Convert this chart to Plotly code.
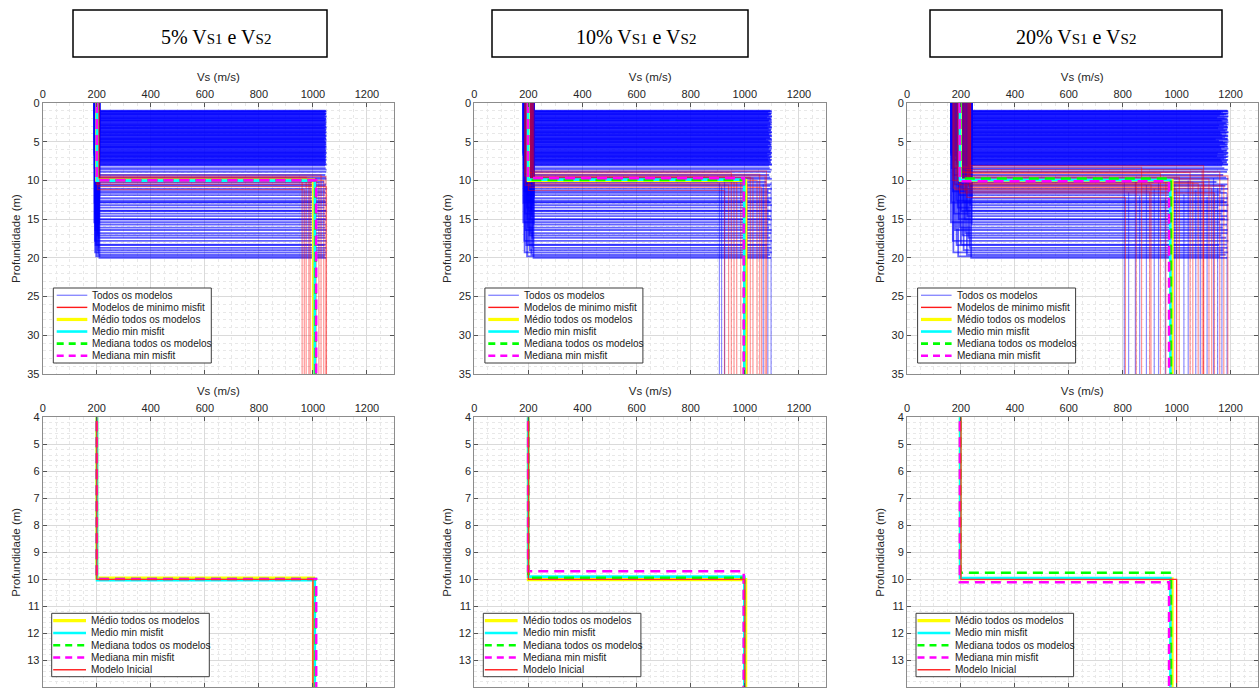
import plotly.graph_objects as go

# ---------------- DATA ----------------
panel_titles = ["5%", "10%", "20%"]

# interface depth (m) of the "Todos os modelos" curves (same sampling look in all panels)
h_todos = [1.0, 1.1, 1.2, 1.4, 1.5, 1.7, 1.9, 2.0, 2.2, 2.3,
           2.4, 2.6, 2.8, 2.9, 3.0, 3.2, 3.3, 3.5, 3.7, 3.8,
           3.9, 4.1, 4.2, 4.4, 4.6, 4.7, 4.8, 5.0, 5.1, 5.3,
           5.5, 5.6, 5.7, 5.9, 6.0, 6.2, 6.4, 6.5, 6.6, 6.8,
           6.9, 7.1, 7.3, 7.4, 7.6,
           7.9, 8.1, 8.4, 8.6, 8.9, 9.3, 9.6, 9.8, 10.2, 10.5,
           10.7, 11.1, 11.4, 11.6, 11.9, 12.3, 12.6, 12.8, 12.85, 13.2,
           13.5, 13.9, 13.95, 14.3, 14.6, 15.0, 15.05, 15.4, 15.7, 16.1,
           16.4, 16.8, 17.1, 17.4, 17.8, 18.3, 18.35, 18.7, 19.0, 19.3,
           19.6, 19.8, 20.0,
           1.05, 1.15, 1.35, 1.45, 1.6, 1.8, 1.95, 2.1, 2.25, 2.5,
           2.7, 2.85, 3.1, 3.25, 3.4, 3.6, 3.75, 4.0, 4.15, 4.3,
           4.5, 4.65, 4.9, 5.05, 5.2, 5.4, 5.65, 5.8, 6.1, 6.3,
           6.45, 6.7, 6.85, 7.0, 7.2, 7.35, 7.5, 7.7, 7.8, 8.0]

vs1_todos_5 = [203, 196, 208, 199, 192, 205, 201, 197, 209, 194,
               206, 200, 193, 204, 198, 207, 195, 202, 210, 196,
               201, 193, 208, 199, 205, 192, 203, 197, 209, 200,
               194, 206, 198, 202, 195, 207, 191, 204, 199, 210,
               196, 203, 193, 208, 201, 197, 205, 192, 200, 206,
               194, 209, 198, 203, 195, 207, 201, 193, 204, 199,
               210, 196, 202, 192, 208, 197, 205, 200, 194, 206,
               198, 203, 191, 209, 199, 195, 204, 201, 207, 193,
               200, 196, 208, 202, 194, 205, 198, 210,
               199, 204, 195, 207, 201, 193, 209, 197, 205, 200,
               192, 206, 198, 203, 196, 208, 194, 202, 210, 199,
               195, 204, 201, 207, 193, 198, 205, 200, 209, 196,
               203, 191, 206, 199, 202, 194, 208, 197, 204, 200]
vs2_todos_5 = [1047, 1050, 1044, 1049, 1046, 1050, 1042, 1048, 1050, 1045,
               1049, 1047, 1050, 1043, 1048, 1050, 1046, 1049, 1044, 1050,
               1048, 1045, 1050, 1047, 1049, 1041, 1050, 1046, 1048, 1050,
               1044, 1049, 1047, 1050, 1045, 1048, 1050, 1043, 1049, 1046,
               1050, 1047, 1044, 1049, 1048, 1050, 1045, 1047, 1050, 1049,
               1046, 1048, 1050, 1042, 1049, 1047, 1050, 1045, 1048, 1044,
               1050, 1046, 1049, 1047, 1050, 1043, 1048, 1050, 1045, 1049,
               1047, 1050, 1044, 1048, 1046, 1050, 1049, 1045, 1047, 1050,
               1048, 1043, 1049, 1046, 1050, 1047, 1044, 1049,
               1049, 1046, 1050, 1048, 1044, 1050, 1047, 1049, 1045, 1050,
               1048, 1046, 1050, 1043, 1049, 1047, 1050, 1045, 1048, 1050,
               1046, 1049, 1044, 1050, 1047, 1048, 1050, 1045, 1049, 1046,
               1050, 1048, 1043, 1049, 1047, 1050, 1045, 1048, 1046, 1050]
vs1_todos_10 = [206, 189, 215, 197, 183, 211, 200, 192, 219, 186,
                208, 199, 184, 213, 194, 217, 188, 203, 221, 191,
                202, 185, 216, 196, 209, 182, 207, 193, 220, 198,
                187, 212, 195, 204, 189, 214, 181, 210, 197, 218,
                190, 205, 184, 216, 201, 193, 211, 183, 199, 213,
                186, 219, 195, 206, 188, 215, 202, 185, 209, 197,
                221, 191, 204, 182, 217, 194, 210, 200, 187, 212,
                196, 207, 181, 220, 198, 189, 208, 203, 214, 185,
                200, 192, 216, 205, 186, 211, 195, 219,
                198, 209, 189, 215, 202, 185, 219, 194, 211, 200,
                183, 213, 196, 207, 191, 217, 187, 205, 221, 198,
                190, 209, 202, 214, 184, 196, 211, 200, 219, 192,
                206, 181, 213, 197, 204, 188, 216, 193, 208, 200]
vs2_todos_10 = [1094, 1100, 1086, 1097, 1091, 1100, 1082, 1096, 1099, 1088,
                1098, 1093, 1100, 1084, 1095, 1099, 1090, 1097, 1087, 1100,
                1096, 1089, 1100, 1093, 1098, 1078, 1100, 1091, 1095, 1099,
                1085, 1097, 1092, 1100, 1088, 1096, 1099, 1083, 1098, 1090,
                1100, 1094, 1086, 1097, 1095, 1100, 1089, 1092, 1099, 1096,
                1090, 1094, 1100, 1080, 1098, 1093, 1100, 1087, 1096, 1085,
                1099, 1091, 1097, 1094, 1100, 1082, 1095, 1099, 1088, 1097,
                1093, 1100, 1086, 1096, 1090, 1099, 1098, 1087, 1094, 1100,
                1095, 1083, 1098, 1091, 1100, 1093, 1085, 1097,
                1098, 1092, 1100, 1096, 1088, 1100, 1094, 1099, 1090, 1100,
                1097, 1093, 1100, 1085, 1098, 1095, 1100, 1089, 1096, 1100,
                1092, 1099, 1087, 1100, 1094, 1097, 1100, 1090, 1098, 1093,
                1100, 1096, 1084, 1099, 1094, 1100, 1091, 1097, 1092, 1100]
vs1_todos_20 = [212, 178, 230, 194, 166, 222, 200, 184, 238, 172,
                216, 198, 168, 226, 188, 234, 176, 206, 241, 182,
                204, 170, 232, 192, 218, 164, 214, 186, 240, 196,
                174, 224, 190, 208, 178, 228, 163, 220, 194, 236,
                180, 210, 168, 232, 202, 186, 222, 166, 198, 226,
                172, 238, 190, 212, 176, 230, 204, 170, 218, 194,
                241, 182, 208, 164, 234, 188, 220, 200, 174, 224,
                192, 214, 163, 240, 196, 178, 216, 206, 228, 170,
                200, 184, 232, 210, 172, 222, 190, 238,
                196, 218, 178, 230, 204, 170, 238, 188, 222, 200,
                166, 226, 192, 214, 182, 234, 174, 210, 241, 196,
                180, 218, 204, 228, 168, 192, 222, 200, 238, 184,
                212, 163, 226, 194, 208, 176, 232, 186, 216, 200]
vs2_todos_20 = [1188, 1192, 1165, 1190, 1176, 1192, 1150, 1186, 1191, 1170,
                1189, 1182, 1192, 1158, 1187, 1190, 1174, 1188, 1162, 1192,
                1185, 1168, 1191, 1180, 1189, 1145, 1192, 1172, 1186, 1190,
                1160, 1188, 1178, 1192, 1166, 1185, 1190, 1152, 1189, 1175,
                1192, 1183, 1163, 1188, 1186, 1191, 1169, 1177, 1190, 1187,
                1173, 1184, 1192, 1148, 1189, 1181, 1191, 1164, 1186, 1159,
                1190, 1176, 1188, 1183, 1192, 1155, 1185, 1190, 1167, 1188,
                1179, 1192, 1161, 1187, 1171, 1190, 1189, 1166, 1184, 1192,
                1186, 1157, 1189, 1175, 1191, 1182, 1162, 1188,
                1190, 1172, 1192, 1184, 1160, 1191, 1178, 1189, 1166, 1192,
                1186, 1175, 1190, 1153, 1188, 1181, 1192, 1163, 1185, 1191,
                1170, 1189, 1157, 1192, 1179, 1186, 1190, 1165, 1188, 1174,
                1192, 1183, 1150, 1189, 1177, 1191, 1168, 1186, 1173, 1190]

# blue half-space lines (Vs, top depth) that run down to 35 m
vs_todos_deep_5 = []
h_todos_deep_5 = []
vs_todos_deep_10 = [906, 914, 925, 1068, 1085, 1097]
h_todos_deep_10 = [10.3, 10.8, 9.9, 10.5, 11.0, 10.2]
vs_todos_deep_20 = [806, 822, 847, 863, 888, 917, 933, 958, 993, 1027,
                    1043, 1071, 1088, 1113, 1137, 1152, 1168, 1187]
h_todos_deep_20 = [10.2, 11.5, 9.8, 12.0, 10.6, 11.1, 9.9, 12.3, 10.4, 11.8,
                   10.0, 11.3, 10.8, 12.1, 9.7, 11.0, 10.5, 11.6]

# "Modelos de minimo misfit"
h_min_5 = [9.3, 9.5, 9.6, 9.7, 9.8, 9.9, 10.0, 10.1, 10.3, 10.5, 10.8, 11.2]
vs1_min_5 = [205, 198, 210, 201, 202, 196, 207, 200, 204, 199, 208, 203]
vs2_min_5 = [1030, 1048, 975, 985, 1012, 960, 1040, 990, 1022, 1005, 1050, 968]
h_min_10 = [8.8, 9.0, 9.2, 9.4, 9.5, 9.6, 9.7, 9.9, 10.0, 10.1, 10.2, 10.4, 10.6, 10.9, 11.3]
vs1_min_10 = [215, 190, 208, 186, 220, 210, 197, 212, 203, 195, 193, 217, 188, 206, 200]
vs2_min_10 = [1080, 950, 1055, 1075, 960, 1020, 1030, 985, 1045, 995, 970, 1010, 940, 1062, 925]
h_min_20 = [8.1, 8.3, 8.6, 8.9, 9.0, 9.1, 9.4, 9.6, 9.8, 9.9, 10.0, 10.2,
            10.3, 10.4, 10.5, 10.7, 10.9, 11.0, 11.2, 11.4, 11.6, 12.2]
vs1_min_20 = [230, 175, 218, 190, 208, 236, 182, 225, 205, 188, 170, 212,
              228, 235, 186, 200, 232, 172, 178, 215, 195, 222]
vs2_min_20 = [1100, 870, 1095, 1160, 1050, 940, 1190, 1010, 1120, 960, 850, 1060,
              1100, 1080, 905, 1175, 985, 1130, 1000, 900, 1140, 810]
min_bottom = 35.0

# summary profiles: [Vs1, interface depth, Vs2]
medio_todos = {"5%": [200, 9.96, 1002], "10%": [200, 10.01, 1003], "20%": [198, 9.98, 983]}
medio_min = {"5%": [201, 10.03, 1007], "10%": [199, 9.90, 998], "20%": [197, 9.95, 977]}
mediana_todos = {"5%": [200, 9.99, 1010], "10%": [200, 9.94, 997], "20%": [198, 9.76, 979]}
mediana_min = {"5%": [200, 9.99, 1012], "10%": [199, 9.70, 996], "20%": [196, 10.11, 972]}
modelo_inicial = [200, 10.0, 1000]

todos = {"5%": (vs1_todos_5, vs2_todos_5, vs_todos_deep_5, h_todos_deep_5),
         "10%": (vs1_todos_10, vs2_todos_10, vs_todos_deep_10, h_todos_deep_10),
         "20%": (vs1_todos_20, vs2_todos_20, vs_todos_deep_20, h_todos_deep_20)}
minimos = {"5%": (h_min_5, vs1_min_5, vs2_min_5),
           "10%": (h_min_10, vs1_min_10, vs2_min_10),
           "20%": (h_min_20, vs1_min_20, vs2_min_20)}

# ---------------- LAYOUT / STYLE ----------------
FW, FH = 1259, 690
col_px = [(42.7, 394.0), (474.3, 826.0), (907.0, 1257.5)]
top_px = (103.0, 374.0)
bot_px = (417.3, 687.3)
SANS = "Liberation Sans, Arial, sans-serif"
SERIF = "Liberation Serif, Times New Roman, serif"

C_BLUE = "rgba(0,0,255,0.62)"
C_RED = "rgba(255,0,0,0.42)"
DASH = "10px,6px"
STATS = [
    ("Médio todos os modelos", "#ffff00", 3.2, "solid", medio_todos),
    ("Medio min misfit", "#00ffff", 2.6, "solid", medio_min),
    ("Mediana todos os modelos", "#00ff00", 2.6, DASH, mediana_todos),
    ("Mediana min misfit", "#ff00ff", 2.6, DASH, mediana_min),
]

fig = go.Figure()


def prof(vs1, h, vs2, bottom):
    return [vs1, vs1, vs2, vs2], [0, h, h, bottom]


def ax_names(k):
    return ("x" if k == 1 else f"x{k}"), ("y" if k == 1 else f"y{k}")


for ci, key in enumerate(panel_titles):
    kt, kb = ci + 1, ci + 4
    xt, yt = ax_names(kt)
    xb, yb = ax_names(kb)
    vs1s, vs2s, deep, hdeep = todos[key]
    for h, a, b in zip(h_todos, vs1s, vs2s):
        fig.add_trace(go.Scatter(x=[a, a, b], y=[0, h, h], mode="lines", xaxis=xt, yaxis=yt,
                                 line=dict(color=C_BLUE, width=1.8), showlegend=False,
                                 hoverinfo="skip"))
    for v, hd in zip(deep, hdeep):
        fig.add_trace(go.Scatter(x=[v, v], y=[hd, min_bottom], mode="lines",
                                 xaxis=xt, yaxis=yt, line=dict(color="rgba(0,0,255,0.45)", width=1.2),
                                 showlegend=False, hoverinfo="skip"))
    hm, a1, a2 = minimos[key]
    for h, a, b in zip(hm, a1, a2):
        xs, ys = prof(a, h, b, min_bottom)
        fig.add_trace(go.Scatter(x=xs, y=ys, mode="lines", xaxis=xt, yaxis=yt,
                                 line=dict(color=C_RED, width=1.2), showlegend=False,
                                 hoverinfo="skip"))
    for (name, col, w, dash, d) in STATS:
        v1, h, v2 = d[key]
        xs, ys = prof(v1, h, v2, min_bottom)
        for (xa, ya) in ((xt, yt), (xb, yb)):
            fig.add_trace(go.Scatter(x=xs, y=ys, mode="lines", xaxis=xa, yaxis=ya,
                                     line=dict(color=col, width=w, dash=dash),
                                     showlegend=False, name=name))
    v1, h, v2 = modelo_inicial
    xs, ys = prof(v1, h, v2, min_bottom)
    fig.add_trace(go.Scatter(x=xs, y=ys, mode="lines", xaxis=xb, yaxis=yb,
                             line=dict(color="#ff2a2a", width=1.3), showlegend=False,
                             name="Modelo Inicial"))

layout = dict(width=FW, height=FH, margin=dict(l=0, r=0, t=0, b=0, pad=0, autoexpand=False),
              paper_bgcolor="white", plot_bgcolor="white", showlegend=False,
              font=dict(family=SANS, size=11, color="#262626"))

shapes, annots = [], []

for ci in range(3):
    for row, (ypx, yr, ydt, ymdt) in enumerate([(top_px, [35, 0], 5, 1),
                                                 (bot_px, [14, 4], 1, 0.2)]):
        k = ci + 1 + 3 * row
        xn, yn = ax_names(k)
        xd = [col_px[ci][0] / FW, col_px[ci][1] / FW]
        yd = [1 - ypx[1] / FH, 1 - ypx[0] / FH]
        common = dict(showline=True, linecolor="#8c8c8c", linewidth=1, mirror="ticks",
                      ticks="inside", ticklen=4, tickcolor="#555555", zeroline=False,
                      showgrid=True, gridcolor="#dadada", gridwidth=1, automargin=False,
                      tickfont=dict(family=SANS, size=11, color="#262626"))
        layout["xaxis" if k == 1 else f"xaxis{k}"] = dict(
            common, domain=xd, anchor=yn, side="top", range=[0, 1300],
            tick0=0, dtick=200,
            minor=dict(dtick=50, tick0=0, showgrid=True, gridcolor="#e8e8e8",
                       griddash="dot", gridwidth=1),
            title=dict(text="Vs (m/s)", font=dict(family=SANS, size=11.5, color="#262626"),
                       standoff=3))
        layout["yaxis" if k == 1 else f"yaxis{k}"] = dict(
            common, domain=yd, anchor=xn, range=yr, tick0=0, dtick=ydt,
            minor=dict(dtick=ymdt, tick0=0, showgrid=True, gridcolor="#e8e8e8",
                       griddash="dot", gridwidth=1),
            title=dict(text="Profundidade (m)", font=dict(family=SANS, size=11.5, color="#262626"),
                       standoff=4))

        # ---- hand-drawn MATLAB-like legend ----
        AW = col_px[ci][1] - col_px[ci][0]
        AH = ypx[1] - ypx[0]
        xref, yref = f"{xn} domain", f"{yn} domain"
        fx = lambda p: p / AW
        fy = lambda p: 1 - p / AH
        if row == 0:
            entries = [("Todos os modelos", "rgba(0,0,255,0.45)", 1.4, "solid"),
                       ("Modelos de minimo misfit", "#ff1a1a", 1.4, "solid")] + \
                      [(n, c, w, d) for (n, c, w, d, _) in STATS]
            box = (10.6, 168.6, 185.0, 260.0)
            row0, rstep = 192.3, 12.08
            s0, s1, tx = 14.0, 44.6, 47.5
        else:
            entries = [(n, c, w, d) for (n, c, w, d, _) in STATS] + \
                      [("Modelo Inicial", "#ff2a2a", 1.5, "solid")]
            box = (9.0, 166.6, 196.0, 259.4)
            row0, rstep = 203.4, 12.25
            s0, s1, tx = 10.5, 43.3, 46.3
        shapes.append(dict(type="rect", xref=xref, yref=yref, x0=fx(box[0]), x1=fx(box[1]),
                           y0=fy(box[2]), y1=fy(box[3]), fillcolor="white",
                           line=dict(color="#3c3c3c", width=1), layer="above"))
        for i, (name, col, w, dash) in enumerate(entries):
            yy = fy(row0 + i * rstep)
            shapes.append(dict(type="line", xref=xref, yref=yref, x0=fx(s0), x1=fx(s1),
                               y0=yy, y1=yy, layer="above",
                               line=dict(color=col, width=w,
                                         dash=("7px,5px" if dash != "solid" else "solid"))))
            annots.append(dict(text=name, xref=xref, yref=yref, x=fx(tx), y=yy,
                               xanchor="left", yanchor="middle", showarrow=False,
                               font=dict(family=SANS, size=10, color="#1a1a1a")))

# ---- title boxes ----
boxes = [(73, 327), (492, 748), (930, 1222)]
text_cx = [216, 636, 1076]
for (x0, x1), cx, t in zip(boxes, text_cx, panel_titles):
    shapes.append(dict(type="rect", xref="paper", yref="paper", x0=x0 / FW, x1=x1 / FW,
                       y0=1 - 57 / FH, y1=1 - 10 / FH, line=dict(color="black", width=1.5),
                       fillcolor="rgba(0,0,0,0)"))
    sub = "<span style='font-size:15px'>S1</span>"
    sub2 = "<span style='font-size:15px'>S2</span>"
    annots.append(dict(text=f"{t} V{sub} e V{sub2}", xref="paper", yref="paper",
                       x=cx / FW, y=1 - 37 / FH, xanchor="center", yanchor="middle",
                       showarrow=False, font=dict(family=SERIF, size=20, color="black")))

layout["shapes"] = shapes
layout["annotations"] = annots
fig.update_layout(**layout)
fig.write_html("out.html")
